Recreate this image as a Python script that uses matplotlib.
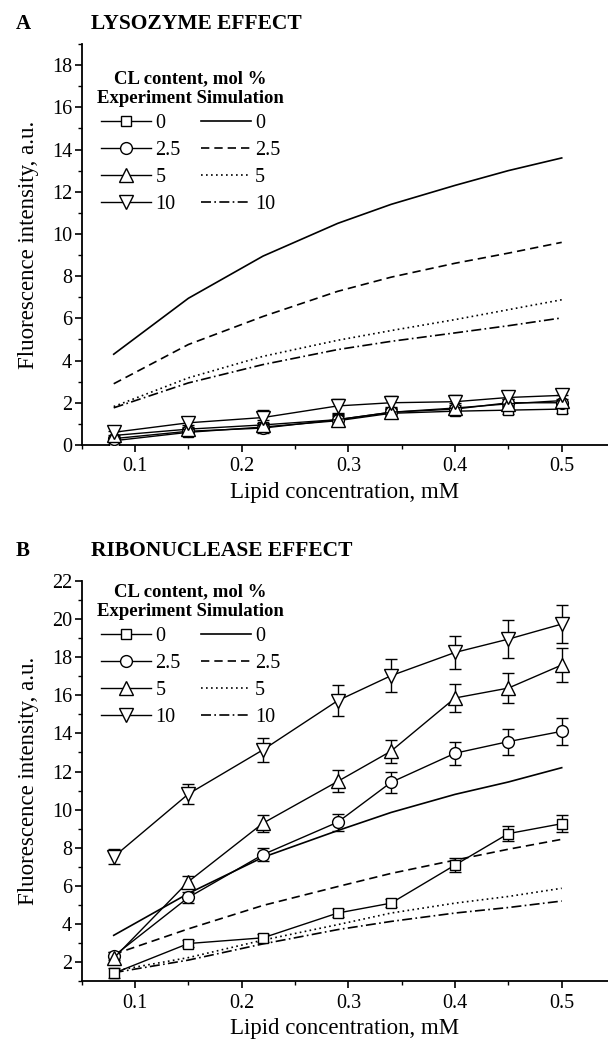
import matplotlib
matplotlib.use("Agg")
import matplotlib.pyplot as plt
from matplotlib.ticker import MultipleLocator

plt.rcParams["font.family"] = ["Liberation Serif", "DejaVu Serif"]

LIPID = [0.08, 0.15, 0.22, 0.29, 0.34, 0.40, 0.45, 0.50]
CL_LABELS = ["0", "2.5", "5", "10"]

# Panel A: lysozyme
LYS_EXP = [
    [0.20, 0.60, 0.85, 1.15, 1.50, 1.60, 1.65, 1.70],
    [0.30, 0.65, 0.80, 1.20, 1.55, 1.70, 2.00, 2.00],
    [0.45, 0.75, 0.95, 1.20, 1.55, 1.75, 1.95, 2.10],
    [0.60, 1.05, 1.30, 1.85, 2.00, 2.05, 2.25, 2.35],
]
LYS_ERR = [
    [0.15, 0.15, 0.20, 0.20, 0.20, 0.20, 0.20, 0.20],
    [0.15, 0.20, 0.25, 0.20, 0.20, 0.20, 0.20, 0.20],
    [0.20, 0.20, 0.25, 0.25, 0.25, 0.25, 0.25, 0.25],
    [0.20, 0.25, 0.35, 0.35, 0.30, 0.30, 0.30, 0.30],
]
LYS_SIM = [
    [4.30, 6.95, 8.95, 10.50, 11.40, 12.30, 13.00, 13.60],
    [2.90, 4.76, 6.09, 7.28, 7.95, 8.61, 9.09, 9.60],
    [1.82, 3.18, 4.20, 4.96, 5.42, 5.94, 6.41, 6.88],
    [1.76, 2.94, 3.81, 4.52, 4.91, 5.31, 5.65, 6.02],
]

# Panel B: ribonuclease
RIB_EXP = [
    [1.41, 2.97, 3.27, 4.57, 5.09, 7.09, 8.74, 9.26],
    [2.31, 5.39, 7.64, 9.34, 11.43, 12.96, 13.57, 14.11],
    [2.20, 6.22, 9.29, 11.48, 13.07, 15.86, 16.38, 17.59],
    [7.52, 10.82, 13.14, 15.72, 17.03, 18.25, 18.95, 19.74],
]
RIB_ERR = [
    [0.25, 0.20, 0.20, 0.20, 0.20, 0.35, 0.40, 0.45],
    [0.20, 0.30, 0.35, 0.45, 0.55, 0.60, 0.68, 0.70],
    [0.30, 0.30, 0.45, 0.58, 0.60, 0.75, 0.80, 0.87],
    [0.40, 0.55, 0.64, 0.80, 0.87, 0.85, 1.00, 0.98],
]
RIB_SIM = [
    [3.40, 5.60, 7.50, 8.90, 9.85, 10.80, 11.45, 12.20],
    [2.40, 3.74, 4.97, 5.96, 6.65, 7.35, 7.92, 8.44],
    [1.53, 2.23, 3.15, 3.96, 4.57, 5.09, 5.44, 5.87],
    [1.44, 2.10, 2.95, 3.70, 4.13, 4.57, 4.86, 5.20],
]

MARKERS = ["s", "o", "^", "v"]
MARKER_SIZES = [7.5, 8.5, 9.5, 9.5]
SIM_STYLES = ["-", (0, (5, 3)), (0, (1, 2)), (0, (6, 2, 1, 2))]


def draw_panel(ax, exp, err, sim, ylim, letter, title, title_y, legend_top):
    handles_exp = []
    handles_sim = []
    for i, label in enumerate(CL_LABELS):
        ax.errorbar(LIPID, exp[i], yerr=err[i], fmt="none", ecolor="black",
                    elinewidth=1.0, capsize=4, capthick=1.0, zorder=3)
        (h,) = ax.plot(LIPID, exp[i], color="black", linewidth=1.0,
                       marker=MARKERS[i], markersize=MARKER_SIZES[i],
                       markerfacecolor="white", markeredgecolor="black",
                       markeredgewidth=1.0, label=label, zorder=4)
        handles_exp.append(h)
    for i, label in enumerate(CL_LABELS):
        (h,) = ax.plot(LIPID, sim[i], color="black", linewidth=1.2,
                       linestyle=SIM_STYLES[i], label=label, zorder=2)
        handles_sim.append(h)

    ax.set_xlim(0.05, 0.5434)
    ax.set_ylim(*ylim)
    ax.xaxis.set_minor_locator(MultipleLocator(0.05))
    ax.yaxis.set_major_locator(MultipleLocator(2))
    ax.yaxis.set_minor_locator(MultipleLocator(1))
    ax.set_xticks([0.1, 0.2, 0.3, 0.4, 0.5])
    ax.set_xticklabels(["0.1", "0.2", "0.3", "0.4", "0.5"])
    ax.spines["top"].set_visible(False)
    ax.spines["right"].set_visible(False)
    for side in ("left", "bottom"):
        ax.spines[side].set_linewidth(1.3)
    ax.tick_params(which="major", direction="out", length=5, width=1.2,
                   labelsize=14.5)
    ax.tick_params(axis="x", which="major", pad=4)
    ax.tick_params(axis="y", which="major", pad=2)
    ax.tick_params(which="minor", direction="out", length=3, width=1.0)
    ax.set_xlabel("Lipid concentration, mM", fontsize=16.5, labelpad=4)
    ax.set_ylabel("Fluorescence intensity, a.u.", fontsize=16.5, labelpad=9)

    leg = ax.legend(handles_exp + handles_sim, CL_LABELS + CL_LABELS, ncol=2,
                    loc="upper left", bbox_to_anchor=(0.018, legend_top),
                    frameon=False, fontsize=14.5, handlelength=2.5,
                    handletextpad=0.2, columnspacing=1.0, labelspacing=0.38,
                    borderaxespad=0.0, borderpad=0.3,
                    title="CL content, mol %\nExperiment Simulation",
                    title_fontproperties={"weight": "bold", "size": 13.5})
    leg.get_title().set_multialignment("center")

    ax.text(-0.125, title_y, letter, transform=ax.transAxes, fontsize=15,
            fontweight="bold", va="center", ha="left")
    ax.text(0.018, title_y, title, transform=ax.transAxes, fontsize=15.5,
            fontweight="bold", va="center", ha="left")


fig = plt.figure(figsize=(6.08, 10.45), dpi=100)
ax_a = fig.add_axes([0.1344, 0.5742, 0.8656, 0.3837])
ax_b = fig.add_axes([0.1344, 0.0612, 0.8656, 0.3828])

draw_panel(ax_a, LYS_EXP, LYS_ERR, LYS_SIM, (0, 19), "A",
           "LYSOZYME EFFECT", 1.05, 0.95)
draw_panel(ax_b, RIB_EXP, RIB_ERR, RIB_SIM, (1, 22), "B",
           "RIBONUCLEASE EFFECT", 1.075, 1.01)

fig.savefig("out.png", dpi=100)
